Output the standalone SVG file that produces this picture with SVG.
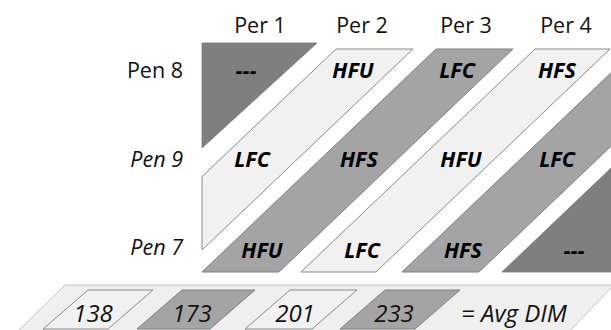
<svg xmlns="http://www.w3.org/2000/svg" width="611" height="330" viewBox="0 0 611 330">
  <style>
    .hdr { font-family: "Open Sans", "Noto Sans", sans-serif; font-size: 21.5px; fill: #111; }
    .row { font-family: "Open Sans", "Noto Sans", sans-serif; font-size: 21.5px; fill: #111; text-anchor: end; }
    .it { font-style: italic; }
    .cell { font-family: "Open Sans", "Noto Sans", sans-serif; font-size: 21.5px; font-weight: bold; font-style: italic; fill: #000; text-anchor: middle; }
    .avg { font-family: "Open Sans", "Noto Sans", sans-serif; font-size: 24px; font-style: italic; fill: #111; text-anchor: middle; }
    .light { fill: #f1f1f1; stroke: #8a8a8a; stroke-width: 1; }
    .mid { fill: #a4a4a4; stroke: #808080; stroke-width: 1; }
    .dark { fill: #7f7f7f; stroke: #777; stroke-width: 0.8; }
    .bar { fill: #efefef; stroke: #c4c4c4; stroke-width: 1; }
  </style>

  <!-- column headers -->
  <g id="headers">
    <text class="hdr" x="260" y="33" text-anchor="middle">Per 1</text>
    <text class="hdr" x="362" y="33" text-anchor="middle">Per 2</text>
    <text class="hdr" x="466" y="33" text-anchor="middle">Per 3</text>
    <text class="hdr" x="566" y="33" text-anchor="middle">Per 4</text>
  </g>

  <!-- row labels -->
  <g id="rows">
    <text class="row" x="183" y="78">Pen 8</text>
    <text class="row it" x="183" y="167">Pen 9</text>
    <text class="row it" x="183" y="255">Pen 7</text>
  </g>

  <!-- diagonal treatment bands -->
  <g id="band-empty-top">
    <polygon class="dark" points="202,43 317,43 202,148"/>
    <text class="cell" x="246" y="78">---</text>
  </g>

  <g id="band-a">
    <polygon class="light" points="336,49 413,49 202,250 202,176.6"/>
    <text class="cell" x="353" y="78">HFU</text>
    <text class="cell" x="252" y="167">LFC</text>
  </g>

  <g id="band-b">
    <polygon class="mid" points="436,49 513,49 279,272 202,272"/>
    <text class="cell" x="457" y="78">LFC</text>
    <text class="cell" x="359" y="167">HFS</text>
    <text class="cell" x="262" y="258">HFU</text>
  </g>

  <g id="band-c">
    <polygon class="light" points="535,49 610,49 376,272 301,272"/>
    <text class="cell" x="557" y="78">HFS</text>
    <text class="cell" x="461" y="167">HFU</text>
    <text class="cell" x="362" y="258">LFC</text>
  </g>

  <g id="band-d">
    <polygon class="mid" points="636,49 713,49 479,272 402,272"/>
    <text class="cell" x="557" y="167">LFC</text>
    <text class="cell" x="463" y="258">HFS</text>
  </g>

  <g id="band-empty-bottom">
    <polygon class="dark" points="640,140.4 640,272 502,272"/>
    <text class="cell" x="574" y="258">---</text>
  </g>

  <!-- legend strip with average DIM per treatment -->
  <g id="legend">
    <polygon class="bar" points="65,285 614,285 565,336 13,336"/>
    <polygon class="light" points="88,290 153,290 108,329 43,329"/>
    <text class="avg" x="93" y="322">138</text>
    <polygon class="mid" points="182,290 255,290 210,329 137,329"/>
    <text class="avg" x="192" y="322">173</text>
    <polygon class="light" points="290,290 357,290 312,329 245,329"/>
    <text class="avg" x="295" y="322">201</text>
    <polygon class="mid" points="385,290 460,290 415,329 340,329"/>
    <text class="avg" x="394" y="322">233</text>
    <text class="avg" x="514" y="322">= Avg DIM</text>
  </g>
</svg>
